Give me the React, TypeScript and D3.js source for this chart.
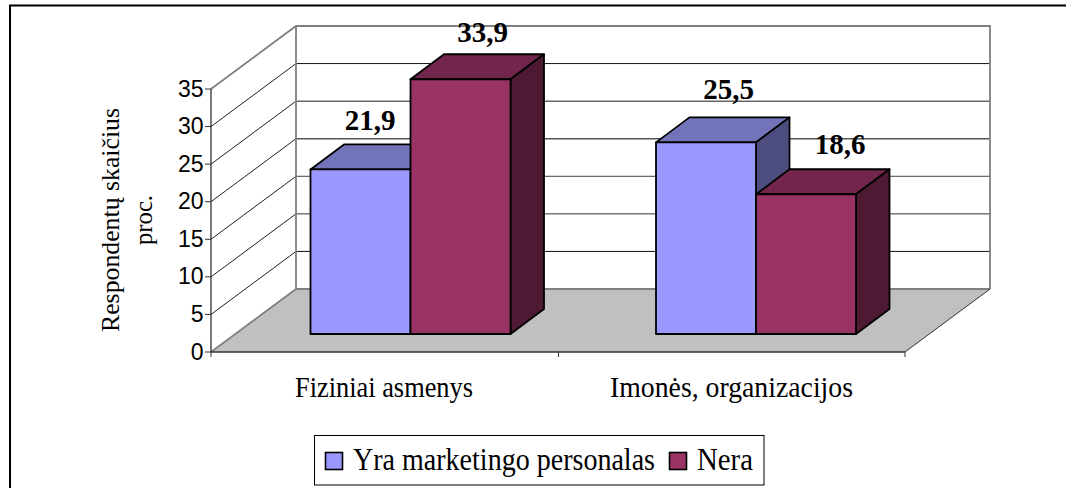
import React from "react";
import * as d3 from "d3";

const categories = ["Fiziniai asmenys", "Imonės, organizacijos"];
const seriesNames = ["Yra marketingo personalas", "Nera"];
const series1 = [21.9, 25.5];
const series2 = [33.9, 18.6];
const valueLabels = [["21,9", "25,5"], ["33,9", "18,6"]];
const ticks = [0, 5, 10, 15, 20, 25, 30, 35];
const faces = [
  { front: "#9999ff", top: "#7373b9", side: "#4d4d80" },
  { front: "#993366", top: "#73264d", side: "#4d1933" },
];
const gridColors: Record<number, string> = { 5: "#111", 10: "#333", 15: "#444", 20: "#555", 25: "#666", 30: "#111" };

const W = 1066, H = 488;
const y = d3.scaleLinear().domain([0, 35]).range([352, 89]);
const x0 = 211, x1 = 905, dx = 85, dy = -63;
const barCenter = d3.scalePoint<string>().domain(categories).range([410.5, 756]);
const catCenter = d3.scalePoint<string>().domain(categories).range([384, 731.5]);
const catWidths = [178, 243];
const barW = 100, barDx = 33.5, barDy = -25, baseShift = y(0) - 334;
const labelDx = [[9.5, 22.5], [22, 34]];
const labelDy = [[-39, -43], [-37, -40]];

const poly = (pts: number[][]) => pts.map((p) => p.join(",")).join(" ");

export default function App() {
  const groups = categories.flatMap((c, ci) => {
    const center = barCenter(c)!;
    return [series1, series2].map((s, si) => ({ ci, si, left: center - barW + si * barW, v: s[ci] }));
  });
  return (
    <svg width={W} height={H} style={{ position: "absolute", left: 0, top: 0, background: "#fff" }}>
      <path d={`M10,${H} V5.5 H${W}`} fill="none" stroke="#000" strokeWidth={2} />
      {/* floor */}
      <polygon points={poly([[x0, y(0)], [x0 + dx, y(0) + dy], [x1 + dx, y(0) + dy], [x1, y(0)]])} fill="#c0c0c0" />
      {/* gridlines */}
      {ticks.slice(1, -1).map((t) => (
        <g key={t} fill="none" strokeWidth={1}>
          <line x1={x0} y1={y(t)} x2={x0 + dx} y2={y(t) + dy} stroke="#222" />
          <line x1={x0 + dx} y1={y(t) + dy} x2={x1 + dx} y2={y(t) + dy} stroke={gridColors[t]} strokeWidth={t === 20 || t === 25 ? 1.5 : 1} />
        </g>
      ))}
      {/* walls */}
      <path d={`M${x0},${y(0)} L${x0 + dx},${y(0) + dy} V${y(35) + dy} M${x0},${y(35)} L${x0 + dx},${y(35) + dy} H${x1 + dx} V${y(0) + dy} M${x0 + dx},${y(0) + dy} H${x1 + dx}`}
        fill="none" stroke="#808080" strokeWidth={1.8} />
      <line x1={x1 + dx} y1={y(0) + dy} x2={x1} y2={y(0)} stroke="#333" strokeWidth={1} />
      {/* axes */}
      <path d={`M${x0},${y(35)} V${y(0)} H${x1}`} fill="none" stroke="#333" strokeWidth={1.3} />
      {ticks.map((t) => (
        <g key={t}>
          <line x1={x0 - 6} x2={x0} y1={y(t)} y2={y(t)} stroke="#333" />
          <text x={x0 - 7.5} y={y(t) + 7.5} textAnchor="end" fontFamily="Liberation Sans" fontSize={23} fill="#000">{t}</text>
        </g>
      ))}
      {[x0, (x0 + x1) / 2 + 0.5, x1].map((t) => (
        <line key={t} x1={t} x2={t} y1={y(0)} y2={y(0) + 5} stroke="#333" />
      ))}
      {/* bars */}
      {groups.map(({ ci, si, left, v }) => {
        const base = y(0) - baseShift;
        const top = y(v) - baseShift;
        const f = faces[si];
        const r = left + barW;
        return (
          <g key={`${ci}-${si}`} stroke="#000" strokeWidth={1.8} strokeLinejoin="round">
            <polygon points={poly([[left, top], [left + barDx, top + barDy], [r + barDx, top + barDy], [r, top]])} fill={f.top} />
            <polygon points={poly([[r, top], [r + barDx, top + barDy], [r + barDx, base + barDy], [r, base]])} fill={f.side} />
            <rect x={left} y={top} width={barW} height={base - top} fill={f.front} />
          </g>
        );
      })}
      {groups.map(({ ci, si, left, v }) => (
        <text key={`l${ci}-${si}`} x={left + barW / 2 + labelDx[si][ci]} y={y(v) - baseShift + labelDy[si][ci]}
          textAnchor="middle" fontFamily="Liberation Serif" fontWeight="bold" fontSize={29} fill="#000">{valueLabels[si][ci]}</text>
      ))}
      {/* y title */}
      <g transform="translate(119,220) rotate(-90)" fontFamily="Liberation Serif" fontSize={25} textAnchor="middle" fill="#000">
        <text x={0} y={0} textLength={224} lengthAdjust="spacingAndGlyphs">Respondentų skaičius</text>
        <text x={0} y={33} textLength={50} lengthAdjust="spacingAndGlyphs">proc.</text>
      </g>
      {/* categories */}
      {categories.map((c, i) => (
        <text key={c} x={catCenter(c)} y={397} textAnchor="middle" fontFamily="Liberation Serif" fontSize={29} textLength={catWidths[i]} lengthAdjust="spacingAndGlyphs" fill="#000">{c}</text>
      ))}
      {/* legend */}
      <rect x={314.5} y={435.5} width={449.5} height={49.5} fill="#fff" stroke="#000" strokeWidth={1} />
      <rect x={325.5} y={452.5} width={17} height={17} fill={faces[0].front} stroke="#000" strokeWidth={1.6} />
      <text x={353} y={470} fontFamily="Liberation Serif" fontSize={31} textLength={302} lengthAdjust="spacingAndGlyphs" fill="#000">{seriesNames[0]}</text>
      <rect x={669.5} y={452.5} width={17} height={17} fill={faces[1].front} stroke="#000" strokeWidth={1.6} />
      <text x={697} y={470} fontFamily="Liberation Serif" fontSize={31} textLength={56} lengthAdjust="spacingAndGlyphs" fill="#000">{seriesNames[1]}</text>
    </svg>
  );
}
